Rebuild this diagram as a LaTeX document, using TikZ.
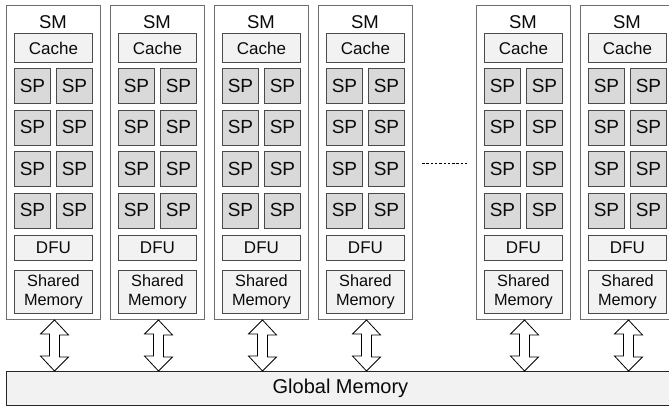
\documentclass[tikz,border=0pt]{standalone}
\usepackage{fontspec}
\setmainfont{Liberation Sans}
\usetikzlibrary{calc}
\definecolor{smborder}{HTML}{6E6E6E}
\definecolor{boxborder}{HTML}{4A4A4A}
\definecolor{lightfill}{HTML}{F2F2F2}
\definecolor{spfill}{HTML}{D9D9D9}
\definecolor{txt}{HTML}{0A0A0A}
\begin{document}
\begin{tikzpicture}[x=1pt,y=-1pt,
  smbox/.style={draw=smborder, line width=1pt, fill=white, minimum width=94pt, minimum height=314pt, inner sep=0pt, anchor=north west},
  unitbox/.style={draw=boxborder, line width=0.9pt, fill=lightfill, inner sep=0pt, anchor=north west, minimum width=78pt, text=txt, font=\fontsize{17}{19}\selectfont, align=center},
  spbox/.style={draw=boxborder, line width=0.9pt, fill=spfill, inner sep=0pt, anchor=north west, minimum width=36pt, minimum height=35pt, text=txt, font=\fontsize{19}{19}\selectfont},
  smlabel/.style={text=txt, font=\fontsize{18.5}{18.5}\selectfont, inner sep=0pt},
  gmbox/.style={draw=black!85, line width=0.9pt, fill=lightfill, inner sep=0pt, anchor=north west, minimum width=668pt, minimum height=34pt, text=txt, font=\fontsize{20}{20}\selectfont},
  memarrow/.style={draw=black, line width=0.8pt, fill=white, line join=miter}
]
\useasboundingbox (0,0) rectangle (669,407);
\node[gmbox] (gm) at (6,371) {Global Memory};
\foreach \i/\x in {1/6,2/110,3/214,4/318,5/476,6/580}{
  \node[smbox] (sm\i) at (\x,5) {};
  \node[smlabel] (lab\i) at ({\x+47},22.5) {SM};
  \node[unitbox, minimum height=29pt] (cache\i) at ({\x+8},33) {Cache};
  \foreach \r/\y in {1/68,2/109.5,3/151,4/192.5}{
    \node[spbox] (sp\i-\r-1) at ({\x+8},\y) {SP};
    \node[spbox] (sp\i-\r-2) at ({\x+50},\y) {SP};
  }
  \node[unitbox, minimum height=25pt] (dfu\i) at ({\x+8},235) {DFU};
  \node[unitbox, minimum height=43pt, font=\fontsize{16.3}{19.5}\selectfont] (shm\i) at ({\x+8},270) {Shared\\Memory};
  \draw[memarrow] ($(sm\i.south)+(1,0)$) -- ++(14,15) -- ++(-9,0) -- ++(0,22) -- ++(9,0) -- ($(sm\i.south |- gm.north)+(1,0)$) -- ++(-14,-15) -- ++(9,0) -- ++(0,-22) -- ++(-9,0) -- cycle;
}
\coordinate (dotsL) at (422,163);
\coordinate (dotsR) at (467,163);
\draw[black, line width=0.8pt, dash pattern=on 2.5pt off 1.8pt] (dotsL) -- (dotsR);
\end{tikzpicture}
\end{document}
